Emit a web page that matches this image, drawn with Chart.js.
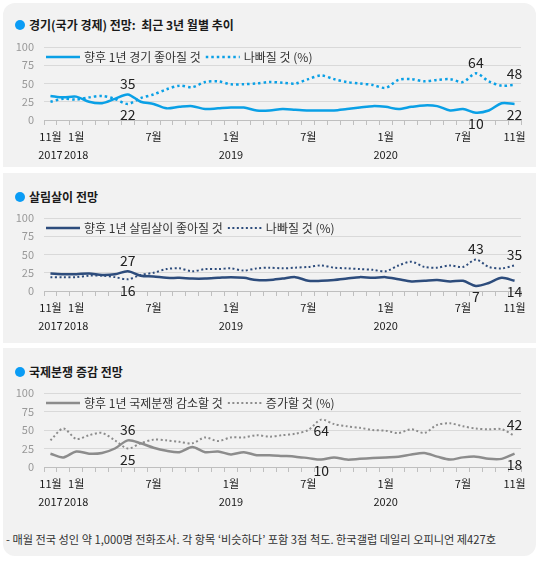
<!DOCTYPE html>
<html>
<head>
<meta charset="utf-8">
<script src="https://cdn.jsdelivr.net/npm/chart.js@4.4.1/dist/chart.umd.min.js"></script>
<style>
  body { margin: 0; width: 539px; height: 561px; background: #fff; position: relative; overflow: hidden;
         font-family: "Noto Sans CJK KR", "Noto Sans", sans-serif; }
  .card { position: absolute; left: 3px; width: 533px; background: #f2f2f2; }
  .title { position: absolute; left: 29px; font-size: 12px; font-weight: bold; color: #1a1a1a; line-height: 16px; white-space: pre; }
  .dot { position: absolute; left: 15px; width: 10px; height: 10px; border-radius: 50%; background: #0a9cf5; }
  canvas { position: absolute; left: 0; }
  .note { position: absolute; left: 6px; top: 531px; font-size: 11.2px; color: #333; white-space: nowrap; }
</style>
</head>
<body>
<div class="card" style="top:3px;height:164px;border-radius:12px 12px 0 0"></div>
<div class="card" style="top:173px;height:170px"></div>
<div class="card" style="top:348px;height:208px;border-radius:0 0 12px 12px"></div>

<div class="dot" style="top:20px"></div><div class="title" style="top:17px">경기(국가 경제) 전망:  최근 3년 월별 추이</div>
<div class="dot" style="top:192px"></div><div class="title" style="top:189px">살림살이 전망</div>
<div class="dot" style="top:367px"></div><div class="title" style="top:364px">국제분쟁 증감 전망</div>

<canvas id="c1" width="539" height="164" style="top:3px"></canvas>
<canvas id="c2" width="539" height="170" style="top:173px"></canvas>
<canvas id="c3" width="539" height="170" style="top:348px"></canvas>

<div class="note">- 매월 전국 성인 약 1,000명 전화조사. 각 항목 ‘비슷하다’ 포함 3점 척도. 한국갤럽 데일리 오피니언 제427호</div>

<script>
// 월별 구분 (2017년 11월 ~ 2020년 11월)
const categories = [
  '2017-11','2017-12','2018-01','2018-02','2018-03','2018-04','2018-05','2018-06','2018-07','2018-08',
  '2018-09','2018-10','2018-11','2018-12','2019-01','2019-02','2019-03','2019-04','2019-05','2019-06',
  '2019-07','2019-08','2019-09','2019-10','2019-11','2019-12','2020-01','2020-02','2020-03','2020-04',
  '2020-05','2020-06','2020-07','2020-08','2020-09','2020-10','2020-11'
];
// x축에 표시할 눈금 라벨
const tickLabels = {
  '2017-11': ['11월', '2017'], '2018-01': ['1월', '2018'], '2018-07': ['7월'],
  '2019-01': ['1월', '2019'], '2019-07': ['7월'], '2020-01': ['1월', '2020'],
  '2020-07': ['7월'], '2020-11': ['11월']
};
const yTicks = [0, 25, 50, 75, 100];

// 경기 전망
const econGood = [33,31,32,25,23,29,35,25,22,16,18,19,15,16,17,17,13,13,15,14,13,13,13,15,17,19,18,15,18,20,19,13,15,10,13,23,22];
const econBad  = [25,29,28,31,33,29,22,30,35,42,47,45,52,53,49,49,50,52,51,50,56,61,56,52,50,48,44,55,56,53,55,56,52,64,53,47,48];
// 살림살이 전망
const lifeGood = [24,23,23,24,22,23,27,21,20,18,18,17,17,18,19,18,15,15,17,19,14,14,15,17,19,18,19,16,13,14,15,13,14,7,11,18,14];
const lifeBad  = [19,19,19,21,21,19,16,22,25,30,31,27,30,30,31,28,31,32,31,32,33,35,32,31,30,29,27,35,40,33,32,35,33,43,33,31,35];
// 국제분쟁 증감 전망
const warLess = [18,13,21,18,19,25,36,32,26,22,20,27,20,21,17,20,16,16,15,14,12,10,13,10,11,12,13,14,17,19,14,10,13,14,11,11,18];
const warMore = [36,52,38,43,46,36,25,32,37,36,34,32,40,35,40,40,43,41,43,45,50,64,58,55,53,50,49,46,51,46,57,59,55,52,51,51,42];

Chart.defaults.font.family = '"Noto Sans CJK KR", "Noto Sans", sans-serif';

// 그림 안쪽 위에 그리는 범례
const innerLegend = {
  id: 'innerLegend',
  afterDraw(chart) {
    const ctx = chart.ctx, a = chart.chartArea;
    let x = a.left + 2;
    const y = a.top + 10;
    ctx.save();
    ctx.font = '12px "Noto Sans CJK KR", sans-serif';
    ctx.textBaseline = 'middle';
    chart.data.datasets.forEach(ds => {
      ctx.strokeStyle = ds.borderColor;
      ctx.lineWidth = ds.borderWidth;
      ctx.setLineDash(ds.borderDash || []);
      ctx.beginPath(); ctx.moveTo(x, y); ctx.lineTo(x + 34, y); ctx.stroke();
      x += 38;
      ctx.fillStyle = '#333';
      ctx.fillText(ds.label, x, y);
      x += ctx.measureText(ds.label).width + 5;
    });
    ctx.restore();
  }
};

// 선택한 점 위/아래의 수치
const valueLabels = {
  id: 'valueLabels',
  afterDatasetsDraw(chart, args, opts) {
    const ctx = chart.ctx;
    ctx.save();
    ctx.font = '14px "Noto Sans CJK KR", sans-serif';
    ctx.fillStyle = '#222';
    ctx.textAlign = 'center';
    ctx.textBaseline = 'middle';
    (opts.items || []).forEach(([d, i, side]) => {
      const el = chart.getDatasetMeta(d).data[i];
      const v = chart.data.datasets[d].data[i];
      ctx.fillText(String(v), el.x, el.y + (side === 'above' ? -11 : 11));
    });
    ctx.restore();
  }
};

function makeChart(id, series, names, color, dotWidth, dash, padTop, areaBottom, items) {
  const cv = document.getElementById(id);
  new Chart(cv, {
    type: 'line',
    data: {
      labels: categories,
      datasets: [
        { label: names[0], data: series[0], borderColor: color, borderWidth: 2.5, pointRadius: 0, tension: 0.3 },
        { label: names[1], data: series[1], borderColor: color, borderWidth: dotWidth, borderDash: dash,
          pointRadius: 0, tension: 0.3 }
      ]
    },
    options: {
      responsive: false,
      animation: false,
      events: [],
      layout: { padding: { top: padTop, right: 18, left: 0, bottom: 0 } },
      plugins: {
        legend: { display: false },
        tooltip: { enabled: false },
        valueLabels: { items: items }
      },
      scales: {
        x: {
          offset: true,
          grid: { offset: true, drawOnChartArea: false, drawTicks: true, tickLength: 5, color: '#bfbfbf' },
          border: { color: '#bfbfbf' },
          ticks: {
            autoSkip: false, maxRotation: 0, padding: 3, color: '#1a1a1a',
            font: { size: 11, lineHeight: 1.65 },
            callback: (v, i) => tickLabels[categories[i]] || ''
          },
          afterFit: s => { s.height = cv.height - areaBottom; }
        },
        y: {
          min: 0, max: 100,
          afterBuildTicks: s => { s.ticks = yTicks.map(v => ({ value: v })); },
          grid: { color: '#d9d9d9', drawTicks: false },
          border: { display: false },
          ticks: { padding: 10, color: '#999', font: { size: 11 } },
          afterFit: s => { s.width = 44; }
        }
      }
    },
    plugins: [innerLegend, valueLabels]
  });
}

makeChart('c1', [econGood, econBad], ['향후 1년 경기 좋아질 것', '나빠질 것 (%)'], '#0aa0e6', 2.5, [2.5, 3],
  44, 117, [[0, 6, 'above'], [1, 6, 'below'], [0, 33, 'below'], [1, 33, 'above'], [0, 36, 'below'], [1, 36, 'above']]);
makeChart('c2', [lifeGood, lifeBad], ['향후 1년 살림살이 좋아질 것', '나빠질 것 (%)'], '#2d4c7c', 2, [2, 2.5],
  45, 118, [[0, 6, 'above'], [1, 6, 'below'], [0, 33, 'below'], [1, 33, 'above'], [0, 36, 'below'], [1, 36, 'above']]);
makeChart('c3', [warLess, warMore], ['향후 1년 국제분쟁 감소할 것', '증가할 것 (%)'], '#8c8c8c', 2, [2, 2.5],
  45, 119, [[0, 6, 'above'], [1, 6, 'below'], [0, 21, 'below'], [1, 21, 'below'], [0, 36, 'below'], [1, 36, 'above']]);
</script>
</body>
</html>
